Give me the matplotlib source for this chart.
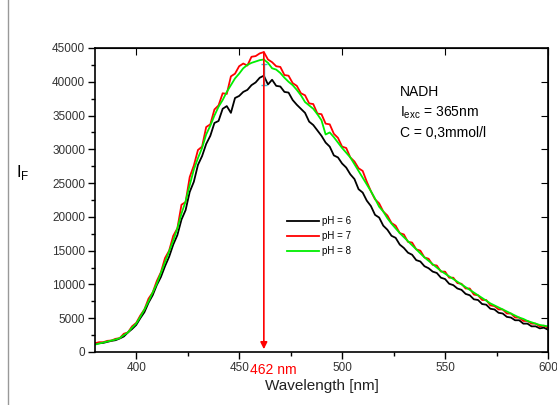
import matplotlib
matplotlib.use("Agg")
import matplotlib.pyplot as plt
from matplotlib.lines import Line2D
from matplotlib.ticker import MultipleLocator
import numpy as np

plt.rcParams['font.family'] = ['Liberation Sans', 'DejaVu Sans']

wavelength = list(range(380, 601, 2))

ph6 = [1200, 1300, 1350, 1500, 1650, 1750, 2000, 2300, 2900, 3400,
       4000, 5000, 5900, 7300, 8400, 9900, 11100, 12700, 14100, 15900,
       17300, 19600, 21000, 23700, 25200, 27700, 29000, 30800, 32000, 33900,
       34200, 36000, 36400, 35400, 37600, 37900, 38500, 38800, 39500, 39900,
       40600, 40900, 39600, 40300, 39400, 39300, 38500, 38400, 37300, 36600,
       36000, 35400, 34100, 33600, 32800, 32000, 31000, 30400, 29100, 28800,
       27900, 27300, 26300, 25600, 24100, 23600, 22400, 21600, 20300, 19900,
       18700, 18100, 17200, 16900, 15900, 15400, 14700, 14400, 13600, 13400,
       12700, 12400, 11900, 11700, 11000, 10800, 10100, 9900, 9400, 9200,
       8600, 8400, 7800, 7700, 7100, 7000, 6400, 6300, 5800, 5700,
       5200, 5100, 4700, 4700, 4200, 4200, 3800, 3800, 3500, 3600, 3300]

ph7 = [1300, 1450, 1450, 1650, 1700, 1950, 2050, 2700, 2900, 3800,
       4300, 5400, 6300, 7900, 8800, 10500, 11800, 13900, 15000, 17200,
       18300, 21800, 22200, 25900, 27600, 29900, 30400, 33300, 33700, 35900,
       36500, 38300, 38200, 40800, 41200, 42300, 42700, 42400, 43700, 43800,
       44200, 44400, 43300, 42900, 42300, 42200, 41000, 40900, 39800, 39400,
       38300, 38000, 36800, 36700, 35300, 35200, 33800, 33700, 32300, 31700,
       30400, 30200, 28800, 28200, 27200, 26800, 25200, 23800, 22600, 22000,
       20800, 20200, 19100, 18700, 17600, 17400, 16300, 16200, 15200, 15000,
       14000, 13800, 12900, 12800, 11900, 11900, 11000, 11000, 10200, 10100,
       9400, 9400, 8500, 8400, 7700, 7700, 6900, 6800, 6300, 6300,
       5700, 5700, 5100, 5100, 4600, 4600, 4200, 4200, 3800, 3900, 3600]

ph8 = [1100, 1250, 1400, 1550, 1700, 1850, 2050, 2500, 2900, 3600,
       4200, 5200, 6300, 7500, 8800, 10100, 11700, 13300, 14900, 16500,
       18300, 20500, 22300, 24700, 27000, 28700, 30200, 32200, 33500, 35000,
       36300, 37300, 38500, 39500, 40500, 41200, 42000, 42500, 42800, 43000,
       43200, 43300, 42800, 42000, 41800, 41300, 40600, 40000, 39500, 38800,
       38000, 37000, 36500, 36000, 35200, 34300, 32200, 32500, 31800, 31000,
       30200, 29500, 28800, 27800, 26800, 25800, 24800, 23800, 22700, 21500,
       20800, 19800, 19000, 18300, 17600, 17000, 16400, 15800, 15200, 14600,
       14000, 13500, 13000, 12500, 12000, 11600, 11200, 10800, 10400, 10000,
       9600, 9200, 8800, 8400, 8000, 7600, 7200, 6900, 6600, 6300,
       6000, 5700, 5400, 5100, 4900, 4600, 4400, 4200, 4000, 3900, 3800]

series_labels = ['pH = 6', 'pH = 7', 'pH = 8']
series_colors = ['#000000', '#ff0000', '#00ee00']
peak_nm = 462
peak_label = '462 nm'
info_lines = ['NADH', r'I$_{\mathregular{exc}}$ = 365nm', 'C = 0,3mmol/l']

fig = plt.figure(figsize=(5.57, 4.05), dpi=100)
ax = fig.add_axes([95/557, 1-352/405, (548-95)/557, (352-48)/405])

for ys, lab, col in zip([ph6, ph7, ph8], series_labels, series_colors):
    ax.plot(wavelength, ys, color=col, lw=1.3, label=lab)

ax.set_xlim(380, 600)
ax.set_ylim(0, 45000)
ax.xaxis.set_major_locator(MultipleLocator(50))
ax.xaxis.set_minor_locator(MultipleLocator(25))
ax.yaxis.set_major_locator(MultipleLocator(5000))
ax.yaxis.set_minor_locator(MultipleLocator(2500))
ax.tick_params(which='major', direction='out', length=5, width=1, labelsize=8.5,
               labelcolor='#333333', pad=2)
ax.tick_params(which='minor', direction='out', length=3, width=1)
for s in ax.spines.values():
    s.set_linewidth(1.2)

sx = ax.secondary_xaxis('top')
sx.xaxis.set_major_locator(MultipleLocator(50))
sx.tick_params(direction='in', length=5, labeltop=False)
sy = ax.secondary_yaxis('right')
sy.yaxis.set_major_locator(MultipleLocator(5000))
sy.tick_params(direction='in', length=5, labelright=False)

ax.set_xlabel('Wavelength [nm]', fontsize=11, color='#222222', labelpad=4)
ax.set_ylabel(r'I$_{\mathregular{F}}$', fontsize=12, rotation=0, va='center')
ax.yaxis.set_label_coords(-0.16, 0.59)

# peak marker
ax.annotate('', xy=(peak_nm, 0), xytext=(peak_nm, 44800),
            arrowprops=dict(arrowstyle='-|>', color='red', lw=1.2, mutation_scale=10))
ax.plot([peak_nm, peak_nm], [39500, 42600], color='#33bbcc', lw=1, marker='_', ms=4)
ax.text(peak_nm + 4.5, -1700, peak_label, color='red', fontsize=10, ha='center', va='top')

for i, t in enumerate(info_lines):
    ax.text(0.673, 0.855 - i*0.068, t, transform=ax.transAxes, fontsize=10, va='center')

ax.legend(loc='upper left', bbox_to_anchor=(0.405, 0.475), frameon=False, fontsize=7,
          handlelength=3.3, handletextpad=0.3, labelspacing=0.5)

fig.add_artist(Line2D([8/557, 8/557], [0, 1], color='#999999', lw=1, transform=fig.transFigure))

fig.savefig('out.png', dpi=100)
